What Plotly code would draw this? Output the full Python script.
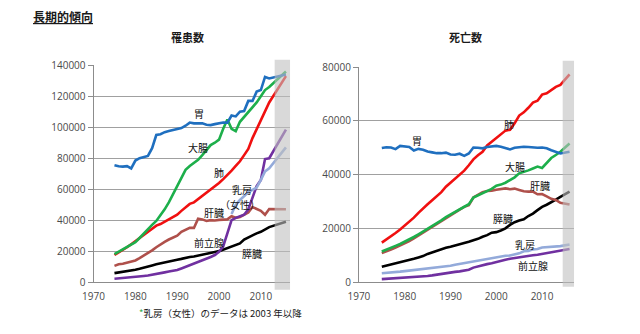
import plotly.graph_objects as go

# ---- 罹患数 (incidence): yearly 1975-2012, projection for 2016 ----
inc_years = list(range(1975, 2013)) + [2016]
inc_stomach = [75.5, 74.8, 74.6, 74.9, 73.4, 78.5, 80.0, 81.0, 81.5, 86.5,
               95.0, 95.5, 96.8, 97.5, 98.3, 99.0, 99.5, 101.0, 103.0, 102.5,
               102.3, 102.5, 101.6, 101.4, 102.0, 102.7, 103.0, 103.0, 107.6, 107.0,
               110.0, 110.5, 117.0, 117.0, 123.0, 124.0, 132.5, 131.5, 134.0]
inc_colon = [18.0, 19.5, 21.0, 22.5, 24.0, 25.8, 28.5, 31.5, 34.0, 37.0,
             39.5, 43.0, 47.0, 51.5, 56.5, 62.0, 67.5, 72.5, 75.0, 77.0,
             79.0, 82.0, 85.0, 88.5, 90.0, 92.0, 99.0, 105.0, 99.0, 97.5,
             103.5, 106.5, 109.5, 113.0, 116.0, 120.0, 124.0, 126.0, 136.0]
inc_lung = [17.5, 19.0, 20.5, 22.5, 24.5, 26.5, 28.5, 30.5, 32.0, 34.5,
            36.5, 37.5, 39.0, 40.5, 41.5, 43.5, 46.0, 48.5, 50.5, 51.5,
            53.5, 55.5, 58.0, 60.0, 62.0, 64.0, 66.5, 69.0, 72.0, 75.0,
            78.0, 82.0, 86.0, 93.0, 99.0, 104.0, 110.0, 116.0, 133.0]
inc_liver = [10.5, 11.5, 11.8, 12.5, 13.2, 14.0, 15.5, 17.0, 18.5, 20.5,
             22.5, 24.5, 26.0, 27.5, 28.5, 30.0, 32.5, 34.0, 35.0, 35.0,
             41.0, 40.5, 39.5, 40.0, 39.8, 40.2, 40.5, 40.5, 42.5, 41.5,
             42.0, 43.5, 45.0, 48.5, 47.5, 46.0, 43.5, 47.2, 47.0]
inc_pancreas = [5.8, 6.2, 6.5, 7.0, 7.5, 8.0, 8.6, 9.2, 10.0, 10.8,
                11.5, 12.2, 12.8, 13.5, 14.0, 14.5, 15.0, 15.8, 16.2, 16.5,
                17.2, 17.8, 18.2, 19.0, 19.5, 20.0, 21.0, 22.0, 23.5, 24.5,
                25.0, 27.5, 29.0, 30.0, 31.5, 32.5, 34.0, 35.5, 39.0]
inc_prostate = [2.2, 2.4, 2.6, 2.9, 3.2, 3.4, 3.7, 4.0, 4.3, 4.7,
                5.2, 5.8, 6.3, 6.8, 7.3, 7.8, 8.8, 9.8, 10.8, 12.0,
                13.0, 14.0, 15.2, 16.2, 17.5, 19.5, 23.0, 31.0, 40.0, 41.5,
                42.5, 43.5, 47.0, 55.0, 62.0, 66.0, 79.5, 80.0, 98.5]
# breast (female) series starts in 2003
inc_breast_years = list(range(2003, 2013)) + [2016]
inc_breast = [44.0, 50.0, 53.0, 55.5, 58.0, 59.5, 61.0, 66.0, 71.5, 73.5, 87.0]

# ---- 死亡数 (deaths): yearly 1975-2014, projection for 2016 ----
mort_years = list(range(1975, 2015)) + [2016]
mort_stomach = [49.9, 50.2, 50.1, 49.5, 50.7, 50.5, 50.3, 49.0, 49.6, 49.3,
                48.6, 48.3, 48.0, 48.0, 48.2, 47.5, 47.4, 47.8, 47.0, 47.9,
                50.1, 50.0, 49.8, 50.3, 50.5, 50.7, 50.4, 49.8, 49.4, 50.0,
                50.3, 50.4, 50.3, 50.1, 50.0, 50.1, 49.8, 49.1, 48.6, 47.9, 48.5]
mort_lung = [14.7, 15.8, 17.0, 18.3, 19.6, 21.0, 22.5, 24.0, 25.8, 27.5,
             29.0, 30.5, 32.0, 33.5, 35.5, 37.0, 38.5, 40.0, 41.5, 43.5,
             45.7, 47.2, 48.5, 50.9, 52.2, 53.7, 54.9, 56.4, 56.7, 59.1,
             62.0, 63.2, 64.9, 66.8, 67.5, 69.8, 70.3, 71.5, 72.7, 73.4, 77.3]
mort_colon = [11.4, 12.0, 12.7, 13.5, 14.2, 15.0, 15.8, 16.8, 17.8, 18.8,
              19.9, 20.8, 21.8, 23.0, 24.2, 25.2, 26.2, 27.2, 28.2, 29.0,
              31.5, 32.3, 33.0, 34.0, 34.7, 35.9, 36.3, 37.0, 38.0, 39.0,
              40.5, 41.0, 41.6, 42.3, 43.0, 42.5, 44.5, 46.2, 47.3, 48.5, 51.6]
mort_liver = [10.8, 11.4, 12.1, 12.9, 13.6, 14.4, 15.3, 16.3, 17.4, 18.4,
              19.5, 20.6, 21.7, 22.9, 24.0, 25.0, 26.0, 27.0, 28.0, 28.6,
              31.5, 32.4, 33.5, 33.9, 34.0, 34.4, 34.6, 34.9, 34.6, 34.8,
              34.3, 33.8, 33.7, 33.7, 32.7, 32.8, 31.9, 31.0, 30.6, 29.5, 28.9]
mort_pancreas = [5.7, 6.1, 6.5, 6.9, 7.3, 7.8, 8.2, 8.7, 9.2, 9.7,
                 10.5, 11.1, 11.7, 12.3, 12.8, 13.2, 13.6, 14.0, 14.6, 15.0,
                 15.6, 16.1, 16.9, 17.5, 18.4, 18.6, 19.2, 20.0, 21.3, 22.3,
                 22.9, 23.4, 24.6, 25.5, 26.8, 28.0, 28.8, 29.9, 30.7, 31.7, 33.7]
mort_breast = [3.3, 3.4, 3.6, 3.7, 3.9, 4.1, 4.3, 4.4, 4.6, 4.8,
               4.9, 5.2, 5.4, 5.6, 5.8, 6.1, 6.5, 6.8, 7.1, 7.4,
               7.8, 8.0, 8.3, 8.7, 8.9, 9.2, 9.7, 9.8, 9.9, 10.4,
               10.7, 11.5, 11.6, 12.2, 12.3, 12.9, 13.0, 13.1, 13.3, 13.4, 14.0]
mort_prostate = [1.1, 1.2, 1.3, 1.4, 1.5, 1.6, 1.7, 1.8, 1.9, 2.1,
                 2.3, 2.5, 2.8, 3.0, 3.3, 3.5, 3.8, 4.0, 4.3, 4.6,
                 5.4, 5.9, 6.2, 6.7, 7.0, 7.5, 7.9, 8.3, 8.7, 9.0,
                 9.3, 9.5, 9.8, 10.0, 10.2, 10.5, 10.7, 11.1, 11.3, 11.5, 12.3]

COLORS = {
    "stomach": "#1F6FBF",
    "colon": "#1DAF4B",
    "lung": "#F01010",
    "liver": "#AF504B",
    "pancreas": "#000000",
    "breast": "#93AADA",
    "prostate": "#7030A0",
}

JP_FONT = "Noto Sans CJK JP"
NUM_FONT = "Open Sans"


def k(vals):
    return [v * 1000 for v in vals]


fig = go.Figure()


def add_line(x, y, color, xa, ya):
    fig.add_trace(go.Scatter(x=x, y=k(y), mode="lines", xaxis=xa, yaxis=ya,
                             line=dict(color=color, width=2.6),
                             showlegend=False, hoverinfo="skip"))


# incidence panel
add_line(inc_years, inc_liver, COLORS["liver"], "x", "y")
add_line(inc_years, inc_pancreas, COLORS["pancreas"], "x", "y")
add_line(inc_years, inc_prostate, COLORS["prostate"], "x", "y")
add_line(inc_breast_years, inc_breast, COLORS["breast"], "x", "y")
add_line(inc_years, inc_lung, COLORS["lung"], "x", "y")
add_line(inc_years, inc_colon, COLORS["colon"], "x", "y")
add_line(inc_years, inc_stomach, COLORS["stomach"], "x", "y")

# mortality panel
add_line(mort_years, mort_prostate, COLORS["prostate"], "x2", "y2")
add_line(mort_years, mort_breast, COLORS["breast"], "x2", "y2")
add_line(mort_years, mort_pancreas, COLORS["pancreas"], "x2", "y2")
add_line(mort_years, mort_liver, COLORS["liver"], "x2", "y2")
add_line(mort_years, mort_colon, COLORS["colon"], "x2", "y2")
add_line(mort_years, mort_lung, COLORS["lung"], "x2", "y2")
add_line(mort_years, mort_stomach, COLORS["stomach"], "x2", "y2")

axis_common = dict(
    showline=True, linecolor="#8C8C8C", linewidth=1,
    tickfont=dict(family=NUM_FONT, size=10, color="#4A4A4A"),
    zeroline=False,
)
xaxis_common = dict(range=[1970, 2017], dtick=10, tick0=1970, showgrid=False,
                    ticks="", ticklabelstandoff=5, **axis_common)
yaxis_common = dict(showgrid=True, gridcolor="#A0A0A0", gridwidth=1,
                    ticks="outside", ticklen=5, tickcolor="#8C8C8C",
                    tickformat="d", **axis_common)

fig.update_layout(
    width=640, height=334,
    margin=dict(l=0, r=0, t=0, b=0),
    paper_bgcolor="white", plot_bgcolor="white",
    showlegend=False,
    xaxis=dict(domain=[0.13125, 0.44375], anchor="y", **xaxis_common),
    yaxis=dict(domain=[0.1407, 0.8204], range=[0, 140000], dtick=20000,
               anchor="x", **yaxis_common),
    xaxis2=dict(domain=[0.5531, 0.8953], anchor="y2", **xaxis_common),
    yaxis2=dict(domain=[0.1407, 0.8144], range=[0, 80000], dtick=20000,
                anchor="x2", **yaxis_common),
)

# shaded projection period
fig.add_shape(type="rect", xref="x", yref="paper", x0=2013.3, x1=2017,
              y0=0.117, y1=0.838, fillcolor="#BFBFBF", opacity=0.6,
              line=dict(width=0), layer="above")
fig.add_shape(type="rect", xref="x2", yref="paper", x0=2014.5, x1=2017,
              y0=0.126, y1=0.835, fillcolor="#BFBFBF", opacity=0.6,
              line=dict(width=0), layer="above")

# series labels
inc_labels = [
    ("胃", 1995.3, 109000),
    ("大腸", 1994.9, 87000),
    ("肺", 2000.0, 71000),
    ("乳房", 2005.5, 59800),
    ("（女性）", 2005.1, 49800),
    ("肝臓", 1998.8, 44800),
    ("前立腺", 1997.7, 25900),
    ("膵臓", 2007.8, 18700),
]
for text, x, y in inc_labels:
    fig.add_annotation(text=text, x=x, y=y, xref="x", yref="y", showarrow=False,
                       font=dict(family=JP_FONT, size=10, color="#111111"))

mort_labels = [
    ("胃", 1982.7, 52600),
    ("肺", 2002.8, 58800),
    ("大腸", 2004.1, 43000),
    ("肝臓", 2009.6, 35800),
    ("膵臓", 2001.5, 23600),
    ("乳房", 2006.3, 14100),
    ("前立腺", 2008.1, 6000),
]
for text, x, y in mort_labels:
    fig.add_annotation(text=text, x=x, y=y, xref="x2", yref="y2", showarrow=False,
                       font=dict(family=JP_FONT, size=10, color="#111111"))

# headings and footnote
fig.add_annotation(text="<b><u>長期的傾向</u></b>", x=20 / 640, y=1 - 9 / 334,
                   xref="paper", yref="paper", xanchor="left", yanchor="middle",
                   showarrow=False, font=dict(family=JP_FONT, size=12, color="#1A1A1A"))
fig.add_annotation(text="<b>罹患数</b>", x=180 / 640, y=1 - 30 / 334,
                   xref="paper", yref="paper", xanchor="center", yanchor="middle",
                   showarrow=False, font=dict(family=JP_FONT, size=11, color="#1A1A1A"))
fig.add_annotation(text="<b>死亡数</b>", x=462 / 640, y=1 - 30 / 334,
                   xref="paper", yref="paper", xanchor="center", yanchor="middle",
                   showarrow=False, font=dict(family=JP_FONT, size=11, color="#1A1A1A"))
fig.add_annotation(text="<span style='color:#2EAA4A'>*</span>乳房（女性）のデータは 2003 年以降",
                   x=128 / 640, y=1 - 319 / 334,
                   xref="paper", yref="paper", xanchor="left", yanchor="middle",
                   showarrow=False, font=dict(family=JP_FONT, size=9.5, color="#1A1A1A"))

fig.write_html("out.html")
